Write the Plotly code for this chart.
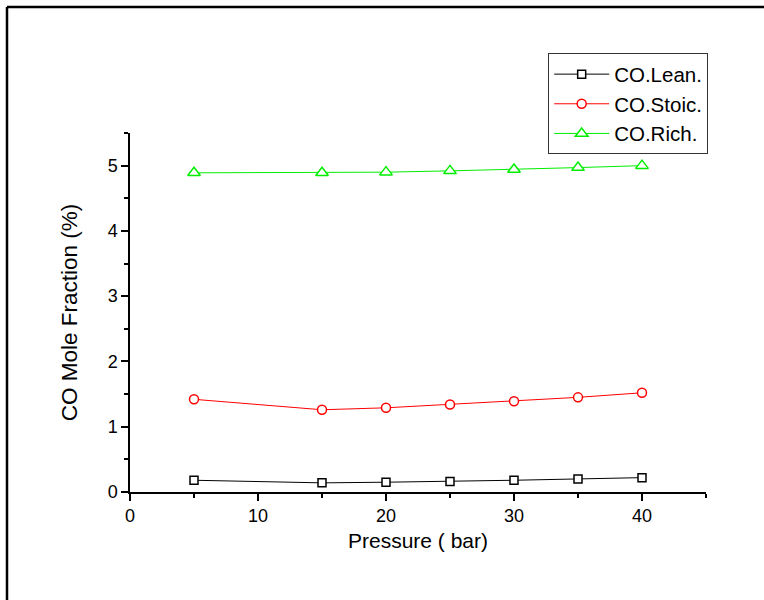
import plotly.graph_objects as go

pressure = [5, 15, 20, 25, 30, 35, 40]
co_lean = [0.18, 0.14, 0.15, 0.16, 0.18, 0.20, 0.22]
co_stoic = [1.42, 1.26, 1.29, 1.34, 1.39, 1.45, 1.52]
co_rich = [4.89, 4.89, 4.90, 4.92, 4.94, 4.97, 5.00]

series_names = ["CO.Lean.", "CO.Stoic.", "CO.Rich."]
series_colors = ["#000000", "#ff0000", "#00ee00"]
series_symbols = ["square", "circle", "triangle-up"]
series_sizes = [8, 9, 11]

fig = go.Figure()
for name, vals, col, sym, sz in zip(series_names, [co_lean, co_stoic, co_rich],
                                    series_colors, series_symbols, series_sizes):
    fig.add_trace(go.Scatter(
        x=pressure, y=vals, name=name, mode="lines+markers",
        line=dict(color=col, width=1),
        marker=dict(symbol=sym, size=sz, color="white", line=dict(color=col, width=1.5)),
        cliponaxis=False,
    ))

font_family = "Liberation Sans, Arial, sans-serif"

fig.update_layout(
    width=764, height=600,
    margin=dict(l=130, r=58, t=133, b=108),
    paper_bgcolor="white", plot_bgcolor="white",
    font=dict(family=font_family, color="black", size=18),
    showlegend=True,
    legend=dict(
        x=0.726, y=1.222, xanchor="left", yanchor="top",
        bordercolor="#333333", borderwidth=1, bgcolor="white",
        font=dict(size=20.5, family=font_family, color="black"),
        itemwidth=55, tracegroupgap=0,
    ),
    xaxis=dict(
        range=[0, 45], dtick=10, tick0=0, showgrid=False, zeroline=False,
        showline=True, linecolor="black", linewidth=1.5,
        ticks="outside", ticklen=7, tickwidth=1.5, tickcolor="black",
        minor=dict(dtick=5, ticks="outside", ticklen=4, tickwidth=1.5, tickcolor="black", showgrid=False),
        tickfont=dict(size=18),
        title=dict(text="Pressure ( bar)", font=dict(size=21), standoff=8),
    ),
    yaxis=dict(
        range=[0, 5.5], dtick=1, tick0=0, showgrid=False, zeroline=False,
        showline=True, linecolor="black", linewidth=1.5,
        ticks="outside", ticklen=7, tickwidth=1.5, tickcolor="black",
        minor=dict(dtick=0.5, ticks="outside", ticklen=4, tickwidth=1.5, tickcolor="black", showgrid=False),
        tickfont=dict(size=18),
        title=dict(text="CO Mole Fraction (%)", font=dict(size=22.5), standoff=24),
    ),
)

# outer frame (top and left edges visible in the reference)
fig.add_shape(type="line", xref="paper", yref="paper",
              x0=(7 - 130) / 576, x1=(780 - 130) / 576, y0=(492 - 7) / 359, y1=(492 - 7) / 359,
              line=dict(color="black", width=2.5))
fig.add_shape(type="line", xref="paper", yref="paper",
              x0=(7 - 130) / 576, x1=(7 - 130) / 576, y0=(492 - 7) / 359, y1=(492 - 620) / 359,
              line=dict(color="black", width=2.5))

fig.write_html("out.html")
